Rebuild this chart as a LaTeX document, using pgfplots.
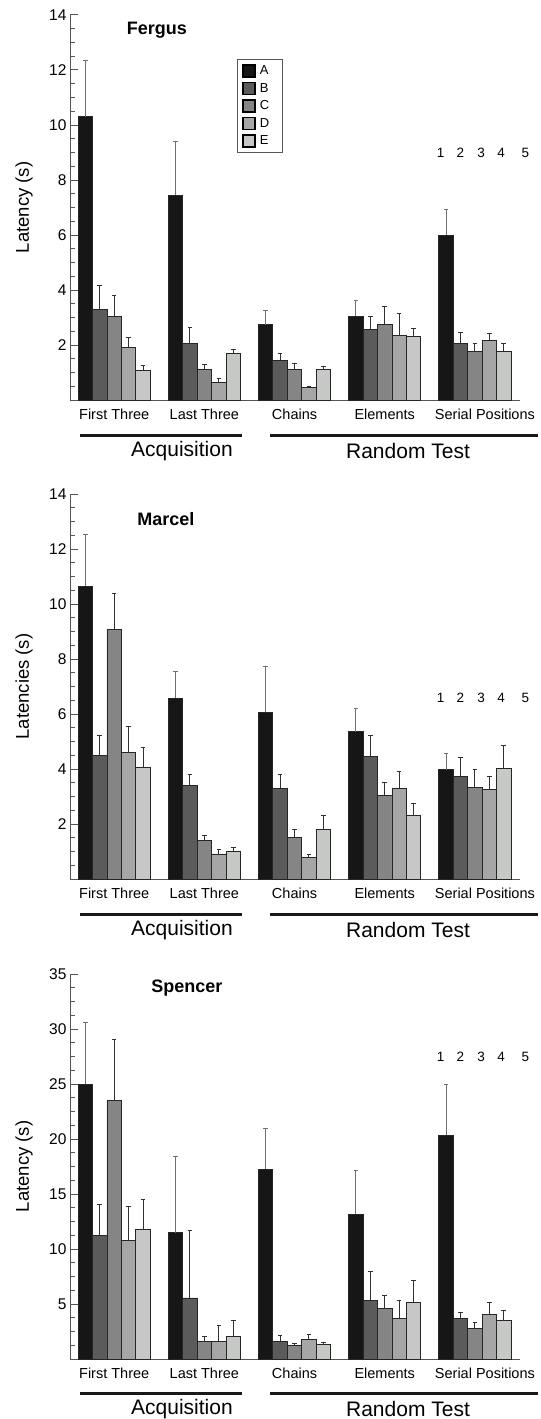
\documentclass[border=0pt]{standalone}
\usepackage{fontspec}
\setmainfont{Liberation Sans}
\usepackage{pgfplots}
\usepackage{pgfplotstable}
\pgfplotsset{compat=1.18}

\definecolor{cA}{HTML}{161616}
\definecolor{cB}{HTML}{5B5B5B}
\definecolor{cC}{HTML}{858585}
\definecolor{cD}{HTML}{A6A6A6}
\definecolor{cE}{HTML}{C6C8C6}
\definecolor{axgray}{HTML}{555555}
\definecolor{bardraw}{HTML}{262626}
\definecolor{errA}{HTML}{707070}
\definecolor{errO}{HTML}{303030}

% x = group index; value and upper error for conditions A..E
\pgfplotstableread{
x A Ae B Be C Ce D De E Ee
0 10.30 2.05 3.29 0.88 3.05 0.75 1.92 0.37 1.07 0.17
1 7.45 1.95 2.05 0.57 1.12 0.18 0.65 0.15 1.70 0.15
2 2.73 0.51 1.45 0.23 1.10 0.22 0.46 0.04 1.12 0.09
3 3.05 0.56 2.58 0.45 2.76 0.63 2.35 0.79 2.32 0.27
4 6.00 0.92 2.05 0.41 1.75 0.31 2.17 0.25 1.78 0.28
}\fergus
\pgfplotstableread{
x A Ae B Be C Ce D De E Ee
0 10.65 1.88 4.49 0.74 9.09 1.29 4.59 0.94 4.06 0.74
1 6.58 0.96 3.41 0.40 1.39 0.19 0.91 0.15 1.02 0.14
2 6.07 1.65 3.30 0.49 1.51 0.29 0.79 0.11 1.79 0.51
3 5.36 0.85 4.47 0.76 3.05 0.47 3.30 0.62 2.30 0.44
4 3.97 0.60 3.73 0.70 3.34 0.63 3.25 0.49 4.03 0.83
}\marcel
\pgfplotstableread{
x A Ae B Be C Ce D De E Ee
0 24.98 5.59 11.20 2.85 23.50 5.56 10.78 3.09 11.75 2.73
1 11.47 6.95 5.55 6.10 1.60 0.48 1.60 1.46 2.08 1.40
2 17.27 3.73 1.63 0.51 1.27 0.12 1.75 0.48 1.29 0.24
3 13.14 4.01 5.33 2.65 4.57 1.19 3.72 1.61 5.18 1.92
4 20.34 4.58 3.66 0.61 2.78 0.55 4.09 1.06 3.48 0.91
}\spencer

\pgfplotsset{
  panel/.style={
    scale only axis, width=450bp, height=385bp,
    xmin=-0.49, xmax=4.5, ymin=0, enlargelimits=false,
    axis x line=bottom, axis y line=left,
    axis line style={-, draw=axgray, line width=1bp},
    ybar=0pt, bar width=0.16,
    xtick={0,1,2,3,4},
    xticklabels={First Three, Last Three, Chains, Elements, \hspace*{20bp}Serial Positions},
    x tick style={draw=none},
    y tick style={draw=axgray, line width=1bp},
    major tick length=8bp, minor tick length=4.5bp,
    tick align=inside,
    /pgf/number format/assume math mode=true,
    xticklabel style={font=\fontsize{14.5bp}{17bp}\selectfont, yshift=-5bp},
    yticklabel style={font=\fontsize{15.5bp}{18bp}\selectfont},
    ylabel style={at={(axis description cs:-0.1022,0.5)}, anchor=center, rotate=0, font=\fontsize{18.5bp}{20bp}\selectfont},
    clip=false,
  },
  barA/.style={fill=cA, draw=bardraw, line width=0.9bp,
    error bars/.cd, y dir=plus, y explicit,
    error bar style={draw=errA, line width=1bp},
    error mark options={rotate=90, draw=errA, line width=1bp, mark size=2.3bp}},
  barO/.style={fill=#1, draw=bardraw, line width=0.9bp,
    error bars/.cd, y dir=plus, y explicit,
    error bar style={draw=errO, line width=1bp},
    error mark options={rotate=90, draw=errO, line width=1bp, mark size=2.3bp}},
}
\newcommand{\nums}[1]{%
  \node[font=\fontsize{13.5bp}{15bp}\selectfont] at (axis cs:3.62,#1) {1};
  \node[font=\fontsize{13.5bp}{15bp}\selectfont] at (axis cs:3.84,#1) {2};
  \node[font=\fontsize{13.5bp}{15bp}\selectfont] at (axis cs:4.07,#1) {3};
  \node[font=\fontsize{13.5bp}{15bp}\selectfont] at (axis cs:4.29,#1) {4};
  \node[font=\fontsize{13.5bp}{15bp}\selectfont] at (axis cs:4.56,#1) {5};
}
\newcommand{\groups}[1]{%
  \draw[line width=2.6bp, black!90] (80,{-(#1+35.5)}) -- (242,{-(#1+35.5)});
  \draw[line width=2.6bp, black!90] (270,{-(#1+35.5)}) -- (538,{-(#1+35.5)});
  \node[inner sep=0pt, font=\fontsize{21bp}{24bp}\selectfont] at (182,{-(#1+51)}) {Acquisition};
  \node[inner sep=0pt, font=\fontsize{21bp}{24bp}\selectfont] at (408,{-(#1+51)}) {Random Test};
}

\begin{document}
\begin{tikzpicture}[x=1bp,y=1bp]
\useasboundingbox (0,0) rectangle (541,-1419);

% ---------------- Fergus ----------------
\begin{axis}[panel, at={(70bp,-400bp)}, anchor=south west,
  ymax=14, ytick={2,4,...,14}, minor ytick={0.5,1,...,13.5},
  ylabel={Latency (s)},
  every axis plot post/.append style={legend image code/.code={\draw[##1, draw=black, line width=1.4bp] (0bp,-6bp) rectangle (12bp,6bp);}},
  legend style={at={(rel axis cs:0.371,0.886)}, anchor=north west, draw=axgray, line width=0.9bp,
    font=\fontsize{13bp}{14bp}\selectfont, inner xsep=5bp, inner ysep=4.5bp, row sep=3.5bp,
    nodes={inner xsep=4bp, inner ysep=1.8bp},
    /tikz/every even column/.append style={column sep=5bp},
    /tikz/every odd column/.append style={column sep=0bp}},
  legend cell align=left]
\addplot[barA] table[x=x, y=A, y error=Ae]{\fergus};
\addplot[barO=cB] table[x=x, y=B, y error=Be]{\fergus};
\addplot[barO=cC] table[x=x, y=C, y error=Ce]{\fergus};
\addplot[barO=cD] table[x=x, y=D, y error=De]{\fergus};
\addplot[barO=cE] table[x=x, y=E, y error=Ee]{\fergus};
\legend{A\hspace*{5bp},B,C,D,E}
\node[font=\bfseries\fontsize{18bp}{20bp}\selectfont] at (axis cs:0.473,13.45) {Fergus};
\nums{8.98}
\end{axis}
\groups{400}

% ---------------- Marcel ----------------
\begin{axis}[panel, at={(70bp,-879bp)}, anchor=south west,
  ymax=14, ytick={2,4,...,14}, minor ytick={0.5,1,...,13.5},
  ylabel={Latencies (s)}]
\addplot[barA] table[x=x, y=A, y error=Ae]{\marcel};
\addplot[barO=cB] table[x=x, y=B, y error=Be]{\marcel};
\addplot[barO=cC] table[x=x, y=C, y error=Ce]{\marcel};
\addplot[barO=cD] table[x=x, y=D, y error=De]{\marcel};
\addplot[barO=cE] table[x=x, y=E, y error=Ee]{\marcel};
\node[font=\bfseries\fontsize{18bp}{20bp}\selectfont] at (axis cs:0.573,13.08) {Marcel};
\nums{6.59}
\end{axis}
\groups{879}

% ---------------- Spencer ----------------
\begin{axis}[panel, at={(70bp,-1359bp)}, anchor=south west,
  ymax=35, ytick={5,10,...,35}, minor ytick={1.25,2.5,...,33.75},
  ylabel={Latency (s)}]
\addplot[barA] table[x=x, y=A, y error=Ae]{\spencer};
\addplot[barO=cB] table[x=x, y=B, y error=Be]{\spencer};
\addplot[barO=cC] table[x=x, y=C, y error=Ce]{\spencer};
\addplot[barO=cD] table[x=x, y=D, y error=De]{\spencer};
\addplot[barO=cE] table[x=x, y=E, y error=Ee]{\spencer};
\node[font=\bfseries\fontsize{18bp}{20bp}\selectfont] at (axis cs:0.806,33.7) {Spencer};
\nums{27.5}
\end{axis}
\groups{1358}
\end{tikzpicture}
\end{document}
